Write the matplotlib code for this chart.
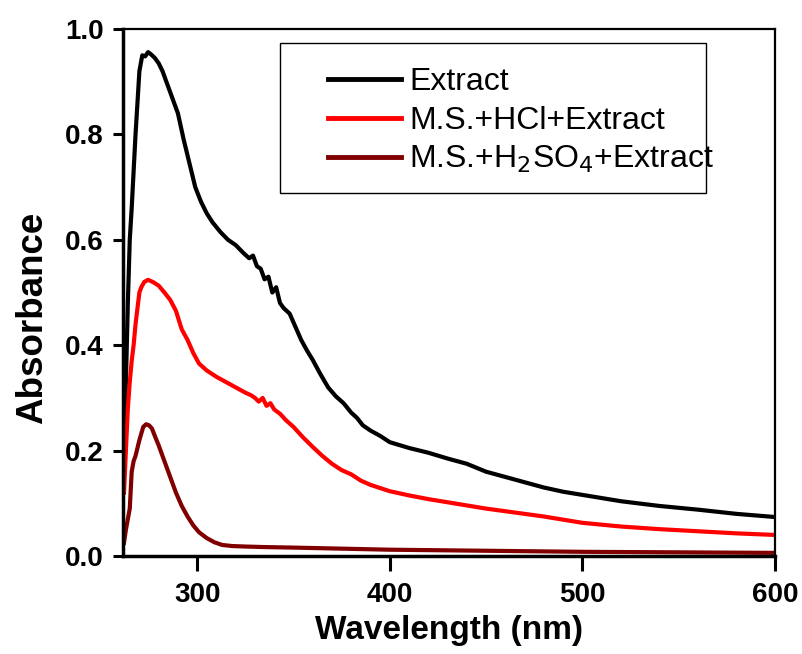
# UV-Vis absorbance spectra
import matplotlib.pyplot as plt
from matplotlib.patches import Rectangle

plt.rcParams['font.family'] = ['Liberation Sans', 'DejaVu Sans']

# Extract (black)
wl_ext = [262, 263, 264, 265, 266, 267, 268, 269, 270, 271.5, 273, 274.5, 276, 278, 280, 282, 285, 288, 290,
          293, 296, 299, 302, 305, 308, 312, 316, 320, 324, 327, 329, 331, 333, 335, 337, 339, 341, 343, 345,
          348, 351, 354, 357, 360, 364, 368, 372, 376, 380, 383, 386, 390, 395, 400, 410, 420, 430, 440, 450,
          460, 470, 480, 490, 500, 520, 540, 560, 580, 600]
abs_ext = [0.20, 0.33, 0.48, 0.60, 0.66, 0.73, 0.80, 0.86, 0.92, 0.95, 0.948, 0.956, 0.952, 0.945, 0.935, 0.92,
           0.89, 0.86, 0.84, 0.79, 0.745, 0.70, 0.672, 0.65, 0.633, 0.615, 0.60, 0.59, 0.575, 0.565, 0.57, 0.55,
           0.545, 0.525, 0.53, 0.50, 0.51, 0.48, 0.47, 0.46, 0.435, 0.41, 0.39, 0.372, 0.345, 0.32, 0.303, 0.29,
           0.272, 0.262, 0.248, 0.238, 0.228, 0.216, 0.205, 0.196, 0.185, 0.175, 0.16, 0.15, 0.14, 0.13, 0.122,
           0.116, 0.104, 0.095, 0.088, 0.08, 0.074]

# M.S.+HCl+Extract (red)
wl_hcl = [262, 263, 264, 265, 266, 267, 268, 269, 270, 271, 272.5, 274.5, 277, 280, 283, 286, 289, 292, 295,
          298, 301, 305, 310, 315, 320, 325, 328, 330, 332, 334, 336, 338, 340, 343, 346, 350, 355, 360, 365,
          370, 375, 380, 385, 390, 400, 410, 420, 430, 440, 450, 460, 470, 480, 500, 520, 540, 560, 580, 600]
abs_hcl = [0.12, 0.2, 0.28, 0.33, 0.37, 0.40, 0.44, 0.47, 0.50, 0.51, 0.52, 0.524, 0.52, 0.513, 0.50, 0.486,
           0.465, 0.43, 0.41, 0.385, 0.365, 0.352, 0.34, 0.33, 0.32, 0.31, 0.305, 0.30, 0.293, 0.30, 0.285, 0.29,
           0.278, 0.27, 0.258, 0.245, 0.225, 0.207, 0.19, 0.175, 0.163, 0.155, 0.143, 0.135, 0.123, 0.115, 0.108,
           0.102, 0.096, 0.09, 0.085, 0.08, 0.075, 0.063, 0.056, 0.051, 0.047, 0.043, 0.040]

# M.S.+H2SO4+Extract (dark red)
wl_h2so4 = [262, 263, 265, 266, 267, 268, 270, 272, 273.5, 275, 276.5, 278, 280, 283, 286, 289, 292, 295, 298,
            301, 305, 309, 313, 318, 325, 335, 350, 375, 400, 450, 500, 550, 600]
abs_h2so4 = [0.025, 0.05, 0.09, 0.16, 0.18, 0.19, 0.22, 0.245, 0.25, 0.248, 0.242, 0.228, 0.21, 0.18, 0.15, 0.12,
             0.095, 0.075, 0.058, 0.045, 0.034, 0.026, 0.021, 0.019, 0.018, 0.017, 0.016, 0.014, 0.012, 0.01,
             0.008, 0.007, 0.006]

fig = plt.figure(figsize=(8.03, 6.54), dpi=100)
ax = fig.add_axes([0.1532, 0.1498, 0.8119, 0.8059])

ax.plot(wl_ext, abs_ext, color='black', lw=3, label='Extract')
ax.plot(wl_hcl, abs_hcl, color='#ff0000', lw=3, label='M.S.+HCl+Extract')
ax.plot(wl_h2so4, abs_h2so4, color='#800000', lw=3, label='M.S.+H$_2$SO$_4$+Extract')

ax.set_xlim(261.5, 600)
ax.set_ylim(0, 1.0)
ax.set_xticks([300, 400, 500, 600])
ax.set_yticks([0.0, 0.2, 0.4, 0.6, 0.8, 1.0])
ax.set_yticklabels(['0.0', '0.2', '0.4', '0.6', '0.8', '1.0'])

for s in ['left', 'bottom']:
    ax.spines[s].set_linewidth(2.5)
for s in ['top', 'right']:
    ax.spines[s].set_linewidth(1.6)

ax.tick_params(axis='x', direction='out', length=11, width=2.2, pad=8, labelsize=20)
ax.tick_params(axis='y', direction='out', length=7, width=2.2, pad=7, labelsize=20)
for lbl in ax.get_xticklabels() + ax.get_yticklabels():
    lbl.set_fontweight('bold')

ax.set_xlabel('Wavelength (nm)', fontsize=24, fontweight='bold')
ax.set_ylabel('Absorbance', fontsize=26.5, fontweight='bold')
ax.xaxis.set_label_coords(0.5, -0.112)
ax.yaxis.set_label_coords(-0.112, 0.452)

# legend frame drawn separately
ax.add_patch(Rectangle((0.2414, 0.6895), 0.6533, 0.2846, transform=ax.transAxes,
                       fill=False, edgecolor='black', lw=1.0, zorder=5))
leg = ax.legend(loc='upper left', bbox_to_anchor=(0.314, 0.927), frameon=False, fontsize=23,
                handlelength=2.3, handletextpad=0.25, labelspacing=0.26, borderaxespad=0, borderpad=0)
for ln in leg.get_lines():
    ln.set_linewidth(3.5)

fig.savefig('out.png', dpi=100)
